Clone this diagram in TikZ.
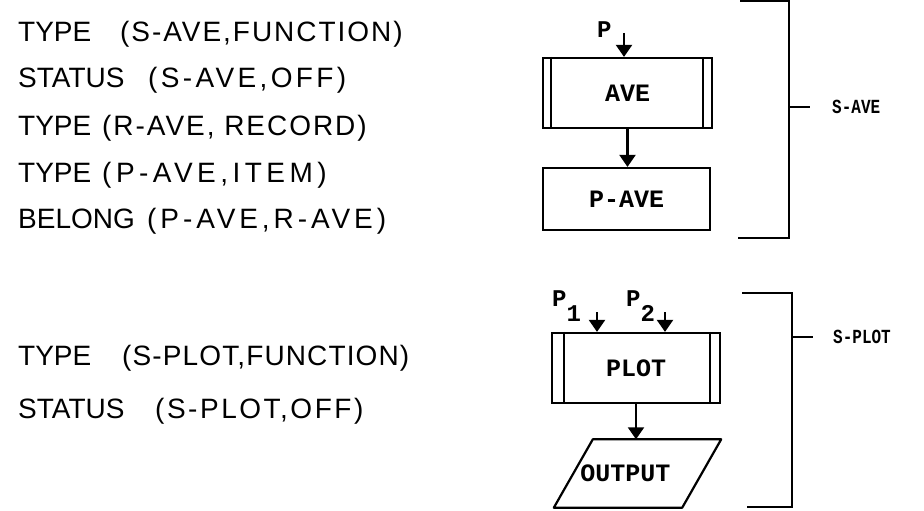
\documentclass[tikz,border=0pt]{standalone}
\usepackage{fontspec}
\usetikzlibrary{arrows.meta}
\newfontfamily\leftfont{Liberation Sans}
\newfontfamily\twfont{Liberation Mono}
\newfontfamily\twnarrow{Liberation Mono}[FakeStretch=0.8]
\newcommand\stmt[4]{\makebox[#1][l]{#2}{\addfontfeatures{LetterSpace=#4}#3}}
\begin{document}
\begin{tikzpicture}[x=1pt,y=-1pt,
  ltext/.style={anchor=base west,inner sep=0pt,font=\leftfont\fontsize{28}{32}\selectfont},
  fbox/.style={draw,line width=2.2pt,inner sep=0pt,font=\twfont\bfseries\fontsize{25}{25}\selectfont},
  inner/.style={line width=1.8pt},
  arr/.style={line width=2.2pt,-{Triangle[width=16pt,length=12pt]}},
  plab/.style={anchor=base west,inner sep=0pt,font=\twfont\bfseries\fontsize{24}{24}\selectfont},
  blab/.style={anchor=west,inner sep=0pt,font=\twnarrow\bfseries\fontsize{20}{20}\selectfont},
  brk/.style={line width=2.2pt}]
\useasboundingbox (0,0) rectangle (924,511);

% left text
\node[ltext] (l1) at (18,42)  {\stmt{102pt}{TYPE}{(S-AVE,FUNCTION)}{7}};
\node[ltext] (l2) at (18,88)  {\stmt{130pt}{STATUS}{(S-AVE,OFF)}{12}};
\node[ltext] (l3) at (18,135) {\stmt{84pt}{TYPE}{(R-AVE, RECORD)}{7}};
\node[ltext] (l4) at (18,182) {\stmt{84pt}{TYPE}{(P-AVE,ITEM)}{16}};
\node[ltext] (l5) at (18,228) {\stmt{129pt}{BELONG}{(P-AVE,R-AVE)}{14}};
\node[ltext] (l6) at (18,365) {\stmt{104pt}{TYPE}{(S-PLOT,FUNCTION)}{4}};
\node[ltext] (l7) at (18,418) {\stmt{137pt}{STATUS}{(S-PLOT,OFF)}{9}};

% S-AVE diagram
\node[fbox,minimum width=169pt,minimum height=70pt] (ave) at (627.5,93) {AVE};
\draw[inner] ([xshift=9pt]ave.north west) -- ([xshift=9pt]ave.south west);
\draw[inner] ([xshift=-10pt]ave.north east) -- ([xshift=-10pt]ave.south east);
\node[fbox,minimum width=167pt,minimum height=62pt] (pave) at (626.5,199) {P-AVE};
\node[plab] (pl) at (597,38) {P};
\coordinate (pa) at (624,33);
\draw[arr] (pa) -- (pa |- ave.north);
\draw[arr] (ave.south) -- (ave.south |- pave.north);

% S-PLOT diagram
\node[fbox,minimum width=168pt,minimum height=70pt] (plot) at (636,368) {PLOT};
\draw[inner] ([xshift=13pt]plot.north west) -- ([xshift=13pt]plot.south west);
\draw[inner] ([xshift=-11pt]plot.north east) -- ([xshift=-11pt]plot.south east);
\node[plab] (p1) at (552,306) {P\raisebox{-15pt}{1}};
\node[plab] (p2) at (626,306) {P\raisebox{-15pt}{2}};
\coordinate (pa1) at (597,312);
\coordinate (pa2) at (665,312);
\draw[arr] (pa1) -- (pa1 |- plot.north);
\draw[arr] (pa2) -- (pa2 |- plot.north);
\node[inner sep=0pt,minimum width=128pt,minimum height=68pt,
      font=\twfont\bfseries\fontsize{25}{25}\selectfont] (out) at (637.5,473.5)
      {\hspace*{-12pt}OUTPUT\hspace*{12pt}};
\draw[line width=2.2pt,line join=round]
  ([xshift=19.5pt]out.north west) -- ([xshift=19.5pt]out.north east)
  -- ([xshift=-19.5pt]out.south east) -- ([xshift=-19.5pt]out.south west) -- cycle;
\draw[arr] (plot.south) -- (plot.south |- out.north);

% brackets
\coordinate (b1a) at (740,1.2);   \coordinate (b1b) at (789,1.2);
\coordinate (b1c) at (789,238); \coordinate (b1d) at (738,238);
\coordinate (b1m) at (789,107);
\draw[brk] (b1a) -- (b1b) -- (b1c) -- (b1d);
\node[blab] (sa) at (832,107) {S-AVE};
\draw[brk] (b1m) -- (sa.west -| 810,0);
\coordinate (b2a) at (742,293); \coordinate (b2b) at (792,293);
\coordinate (b2c) at (792,507); \coordinate (b2d) at (747,507);
\coordinate (b2m) at (792,337);
\draw[brk] (b2a) -- (b2b) -- (b2c) -- (b2d);
\node[blab] (sp) at (833,337) {S-PLOT};
\draw[brk] (b2m) -- (sp.west -| 813,0);
\end{tikzpicture}
\end{document}
